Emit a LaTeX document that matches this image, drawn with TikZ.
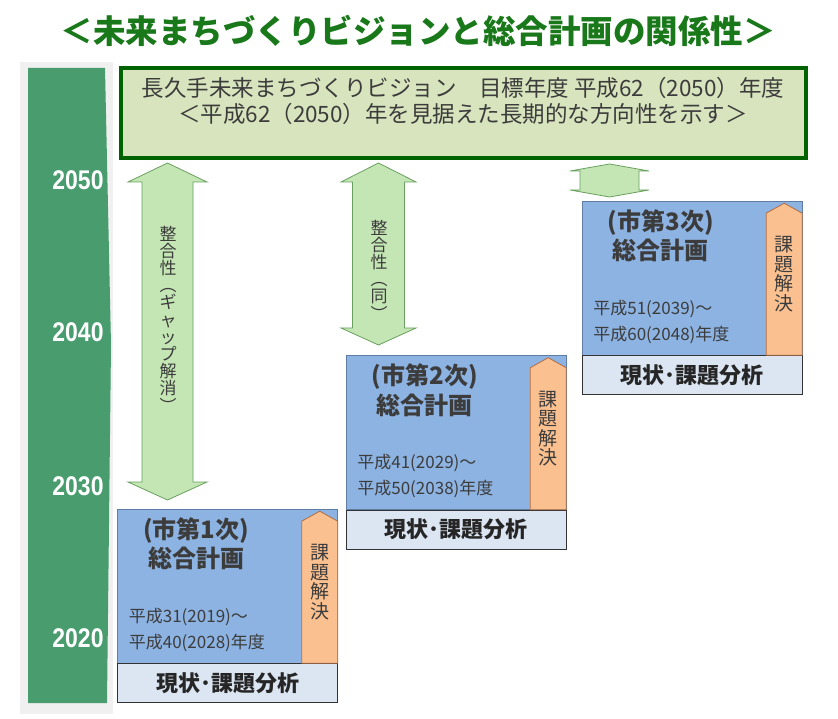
\documentclass[tikz,border=0pt]{standalone}
\usepackage{fontspec}
\setmainfont{Noto Sans CJK JP}
\newfontfamily\yearfont[FakeStretch=0.85]{Liberation Sans}
\usetikzlibrary{positioning,calc}
\definecolor{titlegreen}{RGB}{25,120,25}
\definecolor{visionfill}{RGB}{215,228,189}
\definecolor{visionline}{RGB}{0,98,0}
\definecolor{barback}{RGB}{240,240,240}
\definecolor{bargreen}{RGB}{72,156,110}
\definecolor{bandfill}{RGB}{196,230,180}
\definecolor{banddraw}{RGB}{105,160,95}
\definecolor{planfill}{RGB}{141,179,226}
\definecolor{plandraw}{RGB}{95,125,165}
\definecolor{kadaifill}{RGB}{250,192,144}
\definecolor{kadaidraw}{RGB}{175,110,70}
\definecolor{bunsekifill}{RGB}{220,230,242}
\definecolor{textgray}{RGB}{60,60,60}

\begin{document}
\begin{tikzpicture}[
    x=1pt, y=-1pt,
    title/.style={font=\fontsize{32.5}{36}\selectfont\bfseries, text=titlegreen},
    vision/.style={rectangle, draw=visionline, line width=4pt, fill=visionfill, minimum width=685pt, minimum height=90pt},
    visiontext/.style={align=center, text=textgray, font=\fontsize{22.5}{26}\selectfont},
    year/.style={text=white, font=\yearfont\bfseries\fontsize{27}{28}\selectfont},
    band/.style={draw=banddraw, fill=bandfill, line width=0.8pt},
    vtext/.style={align=center, inner sep=0pt, text=textgray, font=\fontsize{17}{17.2}\selectfont},
    plan/.style={rectangle, draw=plandraw, fill=planfill, minimum width=220pt, minimum height=154pt, inner sep=0pt},
    plantitle/.style={align=center, text=textgray, font=\fontsize{24}{29.5}\selectfont\bfseries},
    term/.style={align=left, anchor=west, text=textgray, font=\fontsize{17}{26}\selectfont},
    kadai/.style={draw=kadaidraw, fill=kadaifill, line width=0.8pt},
    kadaitext/.style={align=center, inner sep=0pt, text=textgray, font=\fontsize{19}{19.5}\selectfont},
    bunseki/.style={rectangle, draw=black!80, fill=bunsekifill, minimum width=220pt, minimum height=39pt, inner sep=0pt, text=black!85, font=\fontsize{22}{22}\selectfont\bfseries}
]
\useasboundingbox (0,0) rectangle (838,719);

\node[title] (title) at (418,31) {＜未来まちづくりビジョンと総合計画の関係性＞};

% time line
\fill[barback] (20,62) rectangle (113,714);
\fill[bargreen] (28,68) -- (105,68) -- (111,345) -- (107,703) -- (28,703) -- cycle;
\node[year] (y2050) at (78,180) {2050};
\node[year] (y2040) at (78,332) {2040};
\node[year] (y2030) at (78,486) {2030};
\node[year] (y2020) at (78,638) {2020};

\node[vision] (vision) at (463.5,113) {};
\node[visiontext] (visionlabel) at (463,101) {長久手未来まちづくりビジョン　目標年度 平成62（2050）年度\\＜平成62（2050）年を見据えた長期的な方向性を示す＞};

\foreach \x/\h/\s/\ya/\yb/\yc/\yd in {167.5/39.5/25.5/163/182/482/500, 378.5/37.5/26/163/182/328/345, 609.5/39.5/29.5/164/171/190/197}
  \draw[band] (\x,\ya) -- (\x+\h,\yb) -- (\x+\s,\yb) -- (\x+\s,\yc) -- (\x+\h,\yc) -- (\x,\yd) -- (\x-\h,\yc) -- (\x-\s,\yc) -- (\x-\s,\yb) -- (\x-\h,\yb) -- cycle;
\node[vtext] (gap) at (168,319) {整\\合\\性\\︵\\ギ\\ャ\\ッ\\プ\\解\\消\\︶};
\node[vtext] (same) at (379,270) {整\\合\\性\\︵\\同\\︶};

% plans
\node[plan] (plan1) at (227.5,586) {};
\node[plan] (plan2) at (456,432.5) {};
\node[plan] (plan3) at (692,278) {};

\node[bunseki, below=0pt of plan1] (genjo1) {現状･課題分析};
\node[bunseki, below=0pt of plan2] (genjo2) {現状･課題分析};
\node[bunseki, below=0pt of plan3] (genjo3) {現状･課題分析};

\draw[kadai] (plan1.south east) -- ++(0,-142) -- ++(-18,-10) -- ++(-18,10) -- ++(0,142) -- cycle;
\draw[kadai] (plan2.south east) -- ++(0,-142) -- ++(-18,-10) -- ++(-18,10) -- ++(0,142) -- cycle;
\draw[kadai] (plan3.south east) -- ++(0,-142) -- ++(-18,-10) -- ++(-18,10) -- ++(0,142) -- cycle;
\node[kadaitext] (kadai1) at ($(plan1.east)+(-18,-4)$) {課\\題\\解\\決};
\node[kadaitext] (kadai2) at ($(plan2.east)+(-18,-4)$) {課\\題\\解\\決};
\node[kadaitext] (kadai3) at ($(plan3.east)+(-18,-4)$) {課\\題\\解\\決};

\node[plantitle] (name1) at ($(plan1.north west)+(79,35)$) {(市第1次)\\総合計画};
\node[plantitle] (name2) at ($(plan2.north west)+(79,35)$) {(市第2次)\\総合計画};
\node[plantitle] (name3) at ($(plan3.north west)+(79,35)$) {(市第3次)\\総合計画};

\node[term] (term1) at ($(plan1.north west)+(8,121)$) {平成31(2019)～\\平成40(2028)年度};
\node[term] (term2) at ($(plan2.north west)+(8,121)$) {平成41(2029)～\\平成50(2038)年度};
\node[term] (term3) at ($(plan3.north west)+(8,121)$) {平成51(2039)～\\平成60(2048)年度};
\end{tikzpicture}
\end{document}
